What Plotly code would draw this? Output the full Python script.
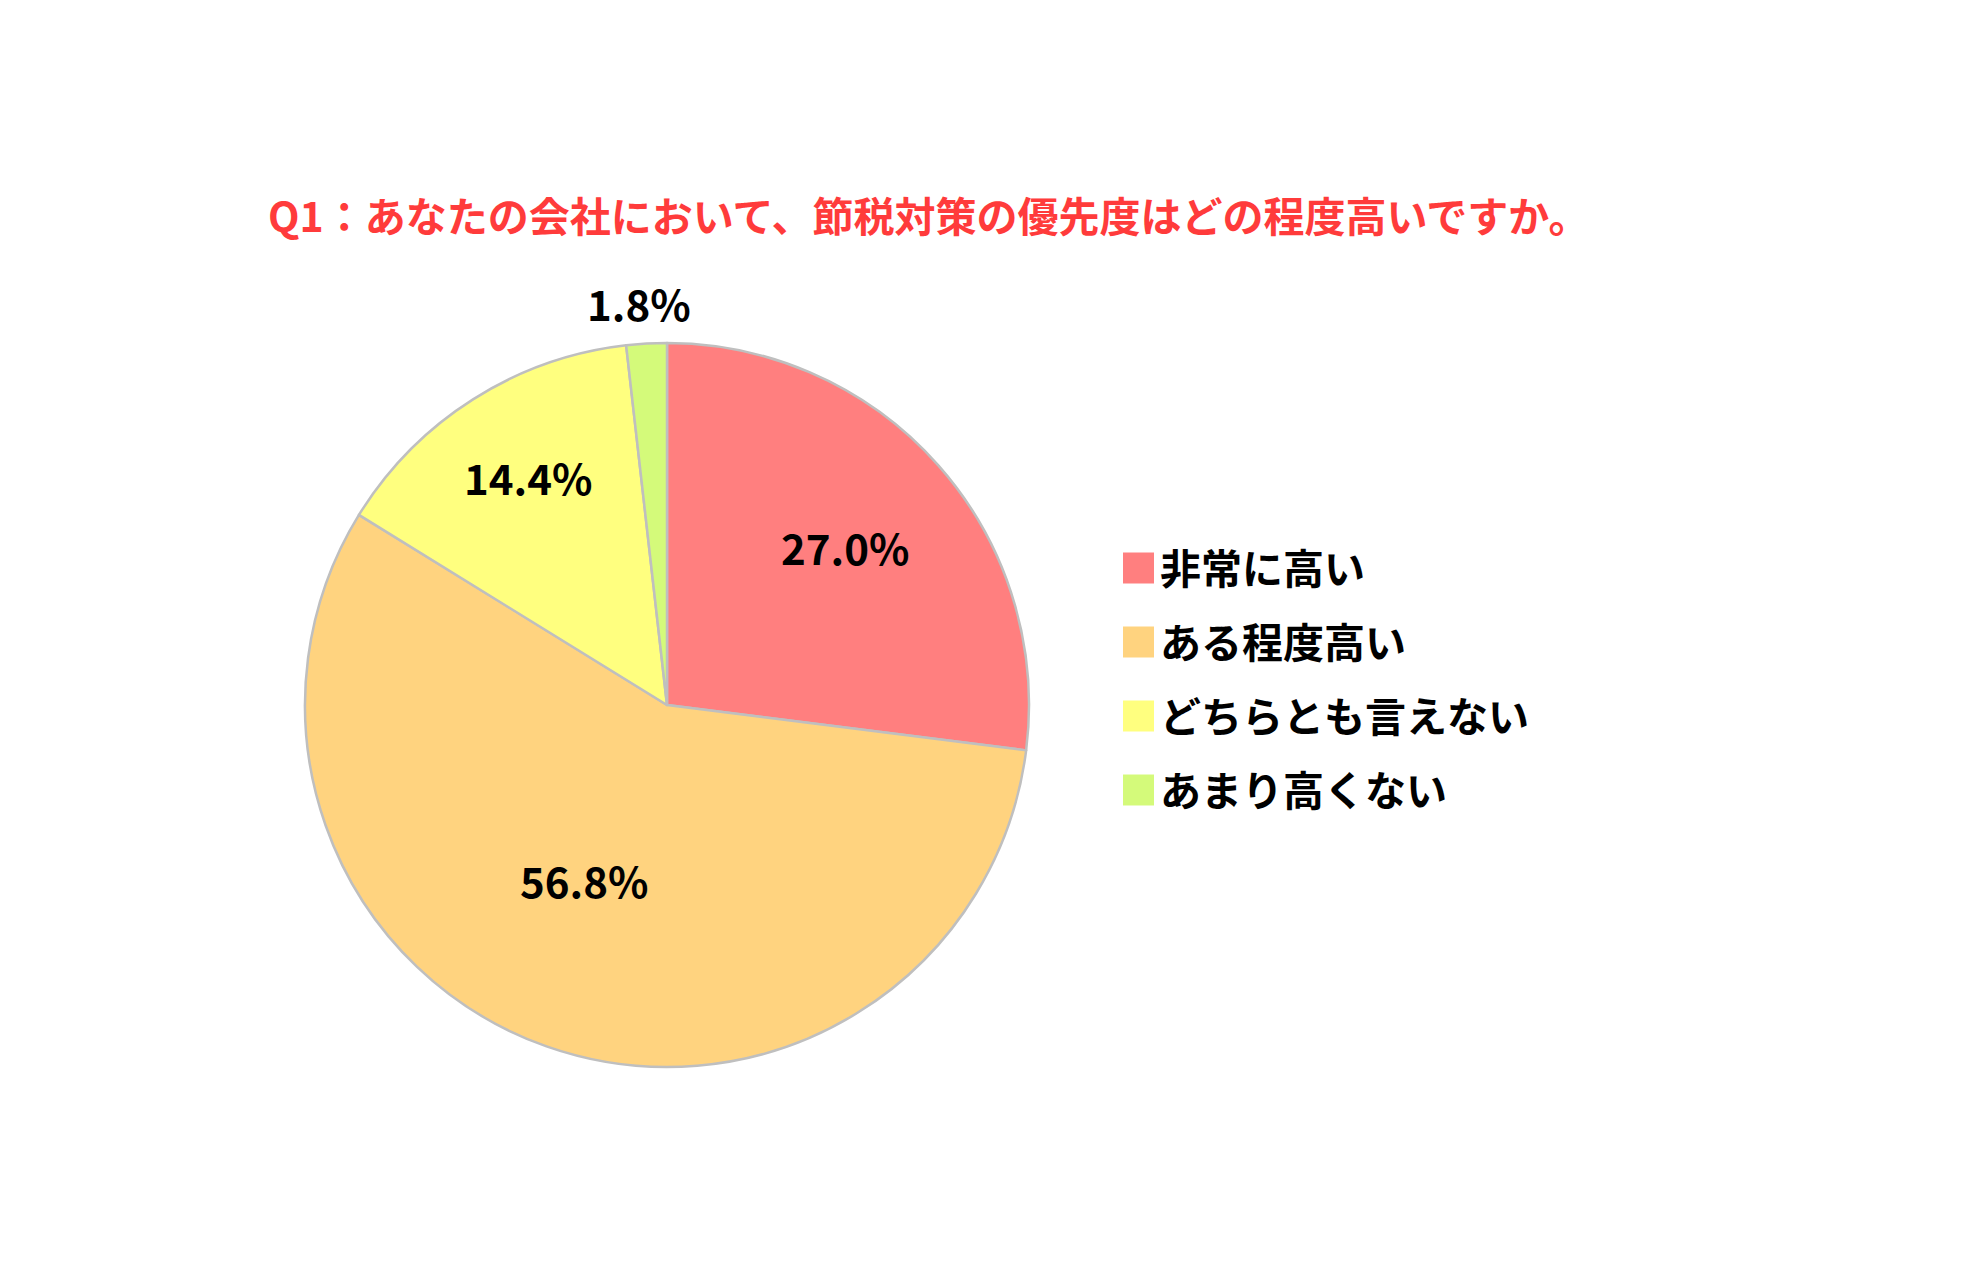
import math
import plotly.graph_objects as go

labels = ["非常に高い", "ある程度高い", "どちらとも言えない", "あまり高くない"]
values = [27.0, 56.8, 14.4, 1.8]
colors = ["#FF7F7F", "#FFD37F", "#FFFF7F", "#D4FA7A"]
title_text = "Q1：あなたの会社において、節税対策の優先度はどの程度高いですか。"

# style: label radial position (fraction of radius) and angular nudge (deg)
label_r = [0.654, 0.540, 0.734, 1.108]
label_dtheta = [0.0, 5.7, 0.9, -0.7]

W, H = 1984, 1287
OFF = 8  # page body margin
cx, cy, R = 667, 705, 362
FONT = "Noto Sans CJK JP"


def px(x):
    return (x - OFF) / W


def py(y):
    return 1 - (y - OFF) / H


fig = go.Figure(go.Pie(
    labels=labels,
    values=values,
    sort=False,
    direction="clockwise",
    rotation=0,
    marker=dict(colors=colors, line=dict(color="#BFBFBF", width=2.5)),
    textinfo="none",
    domain=dict(x=[px(cx - R), px(cx + R)], y=[py(cy + R), py(cy - R)]),
    showlegend=False,
    hoverinfo="skip",
))

annotations = [dict(
    text="<b>" + title_text + "</b>", x=px(266), y=py(214), xref="paper", yref="paper",
    xanchor="left", yanchor="middle", showarrow=False,
    font=dict(family=FONT, size=41, color="#FF3B3B"),
)]

# value labels placed at angles derived from the data
total = sum(values)
cum = 0.0
for v, r, dt in zip(values, label_r, label_dtheta):
    mid = (cum + v / 2) / total * 360 + dt
    cum += v
    th = math.radians(mid)
    lx = cx + r * R * math.sin(th)
    ly = cy - r * R * math.cos(th)
    annotations.append(dict(
        text="<b>%.1f%%</b>" % v, x=px(lx), y=py(ly - 2), xref="paper", yref="paper",
        xanchor="center", yanchor="middle", showarrow=False,
        font=dict(family=FONT, size=42, color="#000000"),
    ))

shapes = []
leg_x0, leg_y0, leg_dy, sq = 1123, 568, 74, 31
for i, (lab, col) in enumerate(zip(labels, colors)):
    yc = leg_y0 + i * leg_dy
    shapes.append(dict(type="rect", xref="paper", yref="paper",
                       x0=px(leg_x0), x1=px(leg_x0 + sq),
                       y0=py(yc + sq / 2), y1=py(yc - sq / 2),
                       fillcolor=col, line=dict(width=0)))
    annotations.append(dict(
        text="<b>" + lab + "</b>", x=px(leg_x0 + sq + 4), y=py(yc - 2),
        xref="paper", yref="paper", xanchor="left", yanchor="middle", showarrow=False,
        font=dict(family=FONT, size=41, color="#000000"),
    ))

fig.update_layout(
    width=W, height=H,
    margin=dict(l=0, r=0, t=0, b=0),
    paper_bgcolor="#FFFFFF", plot_bgcolor="#FFFFFF",
    shapes=shapes, annotations=annotations,
)

fig.write_html("out.html")
